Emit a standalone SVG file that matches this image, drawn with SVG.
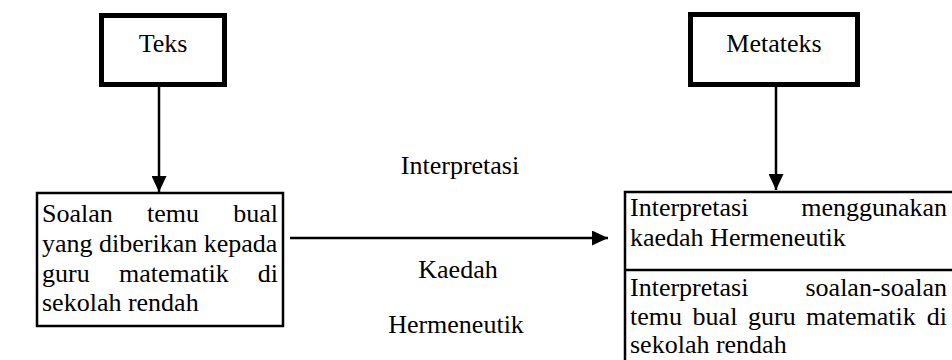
<svg xmlns="http://www.w3.org/2000/svg" width="952" height="360" viewBox="0 0 952 360">
<style>
text{font-family:"Liberation Serif","Times New Roman",serif;font-size:26px;fill:#000}
.thick{fill:#fff;stroke:#000;stroke-width:5}
.thin{fill:#fff;stroke:#000;stroke-width:2.5}
.conn{stroke:#000;stroke-width:2.5;fill:none;marker-end:url(#ah)}
.mid{text-anchor:middle}
.end{text-anchor:end}
</style>
<defs>
<marker id="ah" markerUnits="userSpaceOnUse" markerWidth="16" markerHeight="15" refX="16" refY="7.5" orient="auto">
<path d="M0,0 L16,7.5 L0,15 z" fill="#000"/>
</marker>
</defs>
<rect width="952" height="360" fill="#fff"/>
<g id="connectors">
<line class="conn" x1="159" y1="87" x2="159" y2="192"/>
<line class="conn" x1="776" y1="87" x2="776" y2="190"/>
<line class="conn" x1="290" y1="238" x2="608" y2="238"/>
</g>
<g id="teks">
<rect class="thick" x="101.5" y="15.5" width="123" height="69"/>
<text class="mid" x="163" y="52">Teks</text>
</g>
<g id="metateks">
<rect class="thick" x="690.5" y="14.5" width="167" height="70"/>
<text class="mid" x="774" y="52">Metateks</text>
</g>
<g id="soalan">
<rect class="thin" x="37" y="193" width="246" height="133"/>
<text x="42" y="222">Soalan</text>
<text x="147" y="222">temu</text>
<text class="end" x="278" y="222">bual</text>
<text x="42" y="252">yang diberikan kepada</text>
<text x="42" y="282">guru</text>
<text x="119" y="282">matematik</text>
<text class="end" x="278" y="282">di</text>
<text x="42" y="311">sekolah rendah</text>
</g>
<g id="interpretasi">
<rect class="thin" x="625" y="192" width="340" height="180"/>
<line x1="625" y1="270" x2="952" y2="270" stroke="#000" stroke-width="2.5"/>
<text x="630" y="216">Interpretasi</text>
<text class="end" x="947" y="216">menggunakan</text>
<text x="630" y="246">kaedah Hermeneutik</text>
<text x="630" y="296">Interpretasi</text>
<text class="end" x="947" y="296">soalan-soalan</text>
<text x="630" y="325">temu</text>
<text x="692.6" y="325">bual</text>
<text x="748" y="325">guru</text>
<text x="806" y="325">matematik</text>
<text class="end" x="947" y="325">di</text>
<text x="630" y="353">sekolah rendah</text>
</g>
<g id="labels">
<text class="mid" x="460" y="174">Interpretasi</text>
<text class="mid" x="458" y="278">Kaedah</text>
<text class="mid" x="456" y="333">Hermeneutik</text>
</g>
</svg>
